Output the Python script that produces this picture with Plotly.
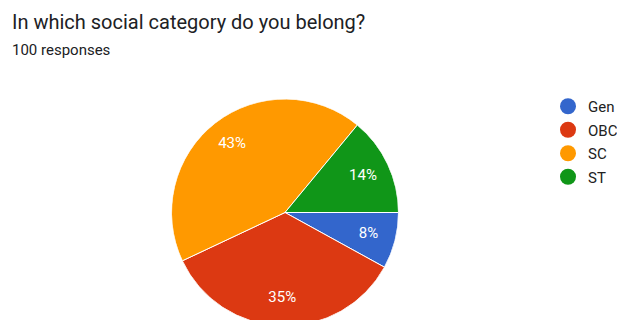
import numpy as np
import plotly.graph_objects as go

categories = ["Gen", "OBC", "SC", "ST"]
values = [8, 35, 43, 14]
colors = ["#3366cc", "#dc3912", "#ff9900", "#109618"]
title_text = "In which social category do you belong?"
subtitle_text = "100 responses"

W, H = 617, 340
cx, cy, r = 285, 212.5, 113.5
dom = dict(x=[(cx - r) / W, (cx + r) / W], y=[(H - cy - r) / H, (H - cy + r) / H])

vals = np.array(values, dtype=float)
fracs = vals / vals.sum()
widths = fracs * 360.0
mid_theta = (np.cumsum(fracs) - fracs / 2) * 360.0
pct_text = [f"{round(f * 100)}%" for f in fracs]

fig = go.Figure()
fig.add_trace(go.Barpolar(
    r=[1] * len(categories), theta=mid_theta, width=widths,
    marker=dict(color=colors, line=dict(color="white", width=1)),
    customdata=categories, hovertemplate="%{customdata}<extra></extra>",
    showlegend=False, subplot="polar",
))
fig.add_trace(go.Scatterpolar(
    r=[0.76] * len(categories), theta=mid_theta, mode="text", text=pct_text,
    textfont=dict(color="white", size=15, family="Roboto"),
    showlegend=False, hoverinfo="skip", subplot="polar",
))
for c, col in zip(categories, colors):
    fig.add_trace(go.Scatter(
        x=[None], y=[None], mode="markers", name=c, legendgroup=c,
        marker=dict(symbol="circle", size=16, color=col),
    ))

fig.update_layout(
    width=W, height=H, margin=dict(l=0, r=0, t=0, b=0, autoexpand=False),
    paper_bgcolor="white", plot_bgcolor="white",
    xaxis=dict(visible=False), yaxis=dict(visible=False),
    polar=dict(domain=dom, bgcolor="rgba(0,0,0,0)", bargap=0,
               radialaxis=dict(visible=False, range=[0, 1]),
               angularaxis=dict(visible=False, rotation=0, direction="clockwise")),
    legend=dict(x=548 / W, y=1 - 90 / H, xanchor="left", yanchor="top",
                font=dict(family="Roboto", size=15, color="#222222"),
                tracegroupgap=1, itemwidth=30, bgcolor="rgba(0,0,0,0)"),
    annotations=[
        dict(text=title_text, x=10 / W, y=1 - 22 / H, xref="paper", yref="paper",
             xanchor="left", yanchor="middle", showarrow=False,
             font=dict(family="Roboto", size=20, color="#202124")),
        dict(text=subtitle_text, x=10 / W, y=1 - 50 / H, xref="paper", yref="paper",
             xanchor="left", yanchor="middle", showarrow=False,
             font=dict(family="Roboto", size=15, color="#202124")),
    ],
)

fig.write_html("out.html", post_script="document.body.style.overflow='hidden';document.body.style.margin='0';")
